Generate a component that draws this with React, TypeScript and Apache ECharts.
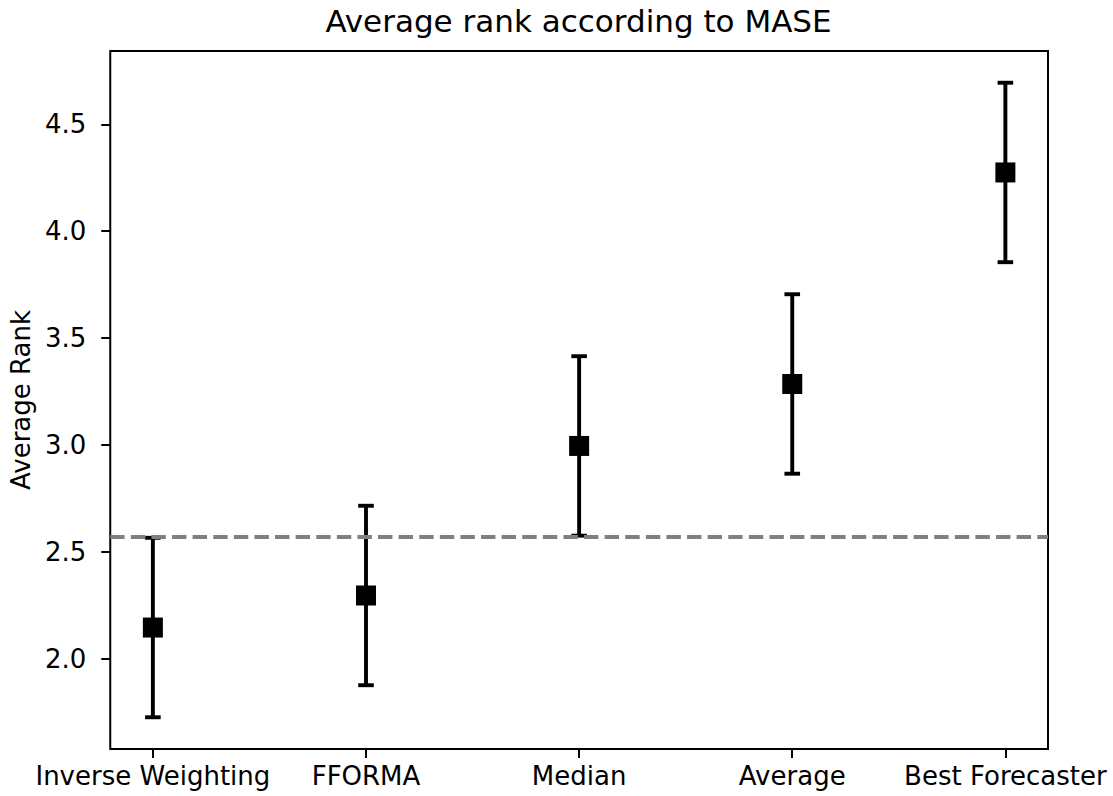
import React, { useEffect, useRef } from "react";
import * as echarts from "echarts";

// Methods compared, their average rank and half-width of the interval
const categories = ["Inverse Weighting", "FFORMA", "Median", "Average", "Best Forecaster"];
const meanRanks = [2.145, 2.295, 2.995, 3.285, 4.275];
const halfWidths = [0.42, 0.42, 0.42, 0.42, 0.42];
// Reference level drawn as a dashed horizontal line
const thresholdRank = 2.57;
const yTicks = [2.0, 2.5, 3.0, 3.5, 4.0, 4.5];

const FONT = "DejaVu Sans";
const W = 1113;
const H = 796;

export default function App() {
  const ref = useRef<HTMLDivElement>(null);

  useEffect(() => {
    if (!ref.current) return;
    const chart = echarts.init(ref.current, null, { renderer: "svg", width: W, height: H });

    // autoscale with 5% margins around the interval extents
    const lows = meanRanks.map((m, i) => m - halfWidths[i]);
    const highs = meanRanks.map((m, i) => m + halfWidths[i]);
    const lo = Math.min(...lows);
    const hi = Math.max(...highs);
    const pad = (hi - lo) * 0.05;
    const xPad = (categories.length - 1) * 0.05;

    const gridLeft = 109;
    const gridRight = 65;
    const plotCenter = gridLeft + (W - gridLeft - gridRight) / 2;

    chart.setOption({
      animation: false,
      backgroundColor: "#ffffff",
      graphic: [
        {
          type: "text",
          x: plotCenter,
          y: 5,
          style: {
            text: "Average rank according to MASE",
            font: `31px '${FONT}'`,
            fill: "#000",
            textAlign: "center",
            textVerticalAlign: "top",
          },
        },
      ],
      grid: {
        left: gridLeft,
        right: gridRight,
        top: 51,
        bottom: 47,
        show: true,
        borderColor: "#000",
        borderWidth: 2,
        backgroundColor: "transparent",
      },
      xAxis: {
        type: "value",
        min: -xPad,
        max: categories.length - 1 + xPad,
        splitLine: { show: false },
        axisLine: { show: false, onZero: false },
        axisTick: {
          show: true,
          length: 9,
          lineStyle: { color: "#000", width: 2 },
          customValues: categories.map((_, i) => i),
        },
        axisLabel: {
          show: true,
          margin: 14,
          color: "#000",
          fontFamily: FONT,
          fontSize: 26,
          customValues: categories.map((_, i) => i),
          formatter: (v: number) => categories[Math.round(v)] ?? "",
        },
      },
      yAxis: {
        type: "value",
        min: lo - pad,
        max: hi + pad,
        name: "Average Rank",
        nameLocation: "middle",
        nameGap: 74,
        nameTextStyle: { color: "#000", fontFamily: FONT, fontSize: 26 },
        splitLine: { show: false },
        axisLine: { show: false, onZero: false },
        axisTick: {
          show: true,
          length: 9,
          lineStyle: { color: "#000", width: 2 },
          customValues: yTicks,
        },
        axisLabel: {
          show: true,
          margin: 24,
          color: "#000",
          fontFamily: FONT,
          fontSize: 26,
          customValues: yTicks,
          formatter: (v: number) => v.toFixed(1),
        },
      },
      series: [
        {
          // dashed reference line across the full plot width
          type: "line",
          z: 1,
          data: [],
          silent: true,
          markLine: {
            silent: true,
            symbol: ["none", "none"],
            label: { show: false },
            lineStyle: { color: "#808080", width: 3.9, type: [14.4, 6.2] },
            data: [{ yAxis: thresholdRank }],
          },
        },
        {
          // vertical interval bars with caps
          type: "custom",
          z: 2,
          silent: true,
          data: meanRanks.map((m, i) => [i, m, halfWidths[i]]),
          encode: { x: 0, y: 1 },
          renderItem: (_params: any, api: any) => {
            const x = api.value(0);
            const m = api.value(1);
            const e = api.value(2);
            const top = api.coord([x, m + e]);
            const bot = api.coord([x, m - e]);
            const cap = 7.8;
            const style = { stroke: "#000", lineWidth: 3.9 };
            return {
              type: "group",
              children: [
                { type: "line", shape: { x1: top[0], y1: top[1], x2: bot[0], y2: bot[1] }, style },
                { type: "line", shape: { x1: top[0] - cap, y1: top[1], x2: top[0] + cap, y2: top[1] }, style },
                { type: "line", shape: { x1: bot[0] - cap, y1: bot[1], x2: bot[0] + cap, y2: bot[1] }, style },
              ],
            };
          },
        },
        {
          // square markers at the mean ranks
          type: "scatter",
          z: 3,
          symbol: "rect",
          symbolSize: 20,
          itemStyle: { color: "#000", opacity: 1 },
          data: meanRanks.map((m, i) => [i, m]),
        },
      ],
    });

    return () => chart.dispose();
  }, []);

  return (
    <div
      ref={ref}
      style={{ position: "fixed", left: 0, top: 0, width: W, height: H, background: "#fff" }}
    />
  );
}
